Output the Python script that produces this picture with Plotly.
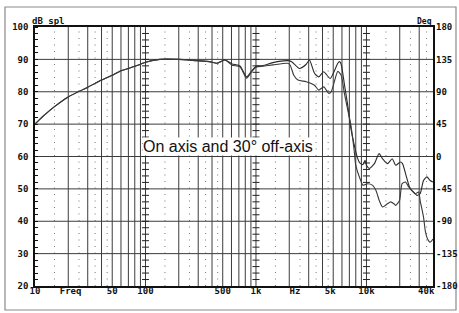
import plotly.graph_objects as go

# ---------------- data ----------------
freq_on = [10, 12, 15, 20, 30, 40, 50, 60, 70, 80, 90, 100, 135, 200, 290, 380, 443, 523,
           607, 716, 823, 918, 1000, 1157, 1425, 1938, 2100, 2477, 2850, 3049, 3385, 3700,
           4100, 4700, 5500, 5700, 5900, 6300, 6750, 7200, 7700, 8300, 8700, 9300, 9700,
           10000, 10600, 11800, 13000, 14000, 15500, 17100, 18400, 20300, 21200, 23000,
           24800, 26700, 28600, 30600, 32800, 35200, 37700, 40000]
db_on = [70.0, 72.6, 75.4, 78.4, 81.4, 83.6, 85.1, 86.5, 87.2, 87.9, 88.5, 89.1, 90.0, 90.0,
         89.6, 89.3, 88.8, 89.8, 88.6, 88.0, 84.6, 86.5, 87.8, 88.1, 89.0, 89.6, 89.3, 87.2,
         88.5, 89.8, 85.7, 84.6, 86.2, 84.1, 88.8, 89.3, 88.5, 82.5, 76.0, 69.0, 64.0, 59.5,
         58.0, 57.5, 58.8, 57.3, 56.3, 57.8, 60.9, 59.3, 57.8, 59.3, 57.3, 58.3, 57.8, 53.7,
         50.1, 49.0, 48.0, 48.5, 52.6, 53.7, 52.6, 52.1]

freq_off = [10, 12, 15, 20, 30, 40, 50, 60, 70, 80, 90, 100, 135, 200, 290, 380, 443, 523,
            607, 716, 823, 918, 1000, 1157, 1425, 1938, 2040, 2200, 2400, 2850, 3385, 3700,
            4100, 4560, 4800, 5500, 5900, 6310, 6900, 7200, 7730, 8000, 8980, 9280, 10280,
            11390, 12190, 13050, 13970, 15480, 16580, 17720, 18400, 19900, 21000, 22520,
            24130, 25700, 27600, 29630, 30600, 32830, 34000, 35180, 36390, 37680, 40000]
db_off = [70.0, 72.6, 75.4, 78.4, 81.4, 83.6, 85.1, 86.5, 87.2, 87.9, 88.5, 89.1, 90.0, 90.0,
          89.6, 89.3, 88.8, 89.8, 88.2, 87.7, 84.2, 86.3, 87.6, 87.9, 88.3, 88.8, 88.2, 85.1,
          83.6, 83.1, 82.0, 80.5, 81.5, 79.5, 80.0, 86.3, 85.1, 79.5, 73.0, 70.0, 62.0, 57.3,
          52.1, 51.1, 51.6, 51.1, 49.5, 46.4, 44.4, 45.4, 46.0, 45.4, 44.9, 46.4, 51.6, 52.1,
          50.6, 49.5, 48.5, 49.0, 46.4, 41.3, 37.2, 35.1, 34.0, 33.5, 34.5]

x_tickvals = [10, 21, 50, 100, 500, 1000, 2250, 4700, 10000, 34700]
x_ticktext = ["10", "Freq", "50", "100", "500", "1k", "Hz", "5k", "10k", "40k"]
db_ticks = [20, 30, 40, 50, 60, 70, 80, 90, 100]
deg_ticks = [-180, -135, -90, -45, 0, 45, 90, 135, 180]
caption = "On axis and 30° off-axis"

# ---------------- figure ----------------
W, H = 459, 313
L, R, T, B = 35, 26, 27, 27
PW, PH = W - L - R, H - T - B
fig = go.Figure()

fig.add_trace(go.Scatter(x=freq_on, y=db_on, mode="lines",
                         line=dict(color="#2a2a2a", width=1.1, shape="spline", smoothing=0.6),
                         showlegend=False, hoverinfo="skip"))
fig.add_trace(go.Scatter(x=freq_off, y=db_off, mode="lines",
                         line=dict(color="#3a3a3a", width=1.1, shape="spline", smoothing=0.6),
                         showlegend=False, hoverinfo="skip"))

# ladder ticks on 100 Hz, 1 kHz, 10 kHz lines
lad_x, lad_y = [], []
for fx in [100, 1000, 10000]:
    for v in range(22, 100, 2):
        lad_x.append(fx)
        lad_y.append(v)
fig.add_trace(go.Scatter(x=lad_x, y=lad_y, mode="markers",
                         marker=dict(symbol="line-ew", size=5, line=dict(color="#222", width=1)),
                         showlegend=False, hoverinfo="skip"))

# dummy trace for the phase axis
fig.add_trace(go.Scatter(x=[10], y=[0], yaxis="y2", mode="markers", marker=dict(opacity=0),
                         showlegend=False, hoverinfo="skip"))

shapes = []
grid_col = "#3c3c3c"
for k in range(1, 5):
    for m in range(1, 10):
        f = m * 10 ** k
        if 10 < f < 40000:
            shapes.append(dict(type="line", xref="x", yref="paper", x0=f, x1=f, y0=0, y1=1,
                               line=dict(color=grid_col, width=1), layer="below"))
    for h in [1.5, 2.5, 3.5, 4.5]:
        fd = h * 10 ** k
        if 10 < fd < 40000:
            shapes.append(dict(type="line", xref="x", yref="paper", x0=fd, x1=fd, y0=0, y1=1,
                               line=dict(color="#777", width=1, dash="1px,5.5px"), layer="below"))
for v in range(30, 100, 10):
    shapes.append(dict(type="line", xref="paper", yref="y", x0=0, x1=1, y0=v, y1=v,
                       line=dict(color=grid_col, width=1), layer="below"))
# outer scanned-page frame
shapes.append(dict(type="rect", xref="paper", yref="paper",
                   x0=(5 - L) / PW, x1=(456 - L) / PW,
                   y0=(H - B - 310) / PH, y1=(H - B - 7) / PH,
                   line=dict(color="#8a8a8a", width=1.2), layer="below"))

mono = dict(family="DejaVu Sans Mono", size=9, color="#111", weight="bold")

fig.update_layout(
    width=W, height=H,
    margin=dict(l=L, r=R, t=T, b=B, pad=0, autoexpand=False),
    paper_bgcolor="white", plot_bgcolor="white",
    shapes=shapes,
    xaxis=dict(type="log", range=[1, 4.60206], tickvals=x_tickvals, ticktext=x_ticktext,
               showgrid=False, zeroline=False, showline=True, linecolor="#111", linewidth=1.5,
               mirror=True, ticks="", ticklen=0, tickfont=mono, ticklabelstandoff=-5, automargin=False),
    yaxis=dict(range=[20, 100], tickvals=db_ticks, showgrid=False, zeroline=False,
               showline=True, linecolor="#111", linewidth=1.5, mirror=True,
               ticks="", tickfont=mono, ticklabelstandoff=3, automargin=False,
               minor=dict(ticks="inside", dtick=2, ticklen=3, tickcolor="#111", tickwidth=1, showgrid=False)),
    yaxis2=dict(range=[-180, 180], overlaying="y", side="right", tickvals=deg_ticks,
                ticktext=[str(t) for t in deg_ticks], showgrid=False, zeroline=False,
                showline=False, ticks="", ticklen=0, tickfont=mono, ticklabelstandoff=2, automargin=False),
    annotations=[
        dict(text="dB spl", xref="paper", yref="paper", x=(31 - L) / PW, y=1.0, xanchor="left", yanchor="bottom",
             showarrow=False, font=mono, yshift=0, borderpad=0),
        dict(text="Deg", xref="paper", yref="paper", x=1.0, y=1.0, xanchor="right", yanchor="bottom",
             showarrow=False, font=dict(family="DejaVu Sans Mono", size=8, color="#111", weight="bold"),
             yshift=0, borderpad=0),
        dict(text=caption, xref="paper", yref="paper", x=(228 - L) / PW, y=(H - B - 146) / PH,
             xanchor="center", yanchor="middle", showarrow=False,
             font=dict(family="Liberation Sans", size=16, color="#111"), bgcolor="white", borderpad=0),
    ],
)

fig.write_html("out.html", config={"displayModeBar": False},
               post_script="document.body.style.margin='0px';document.body.style.overflow='hidden';")
